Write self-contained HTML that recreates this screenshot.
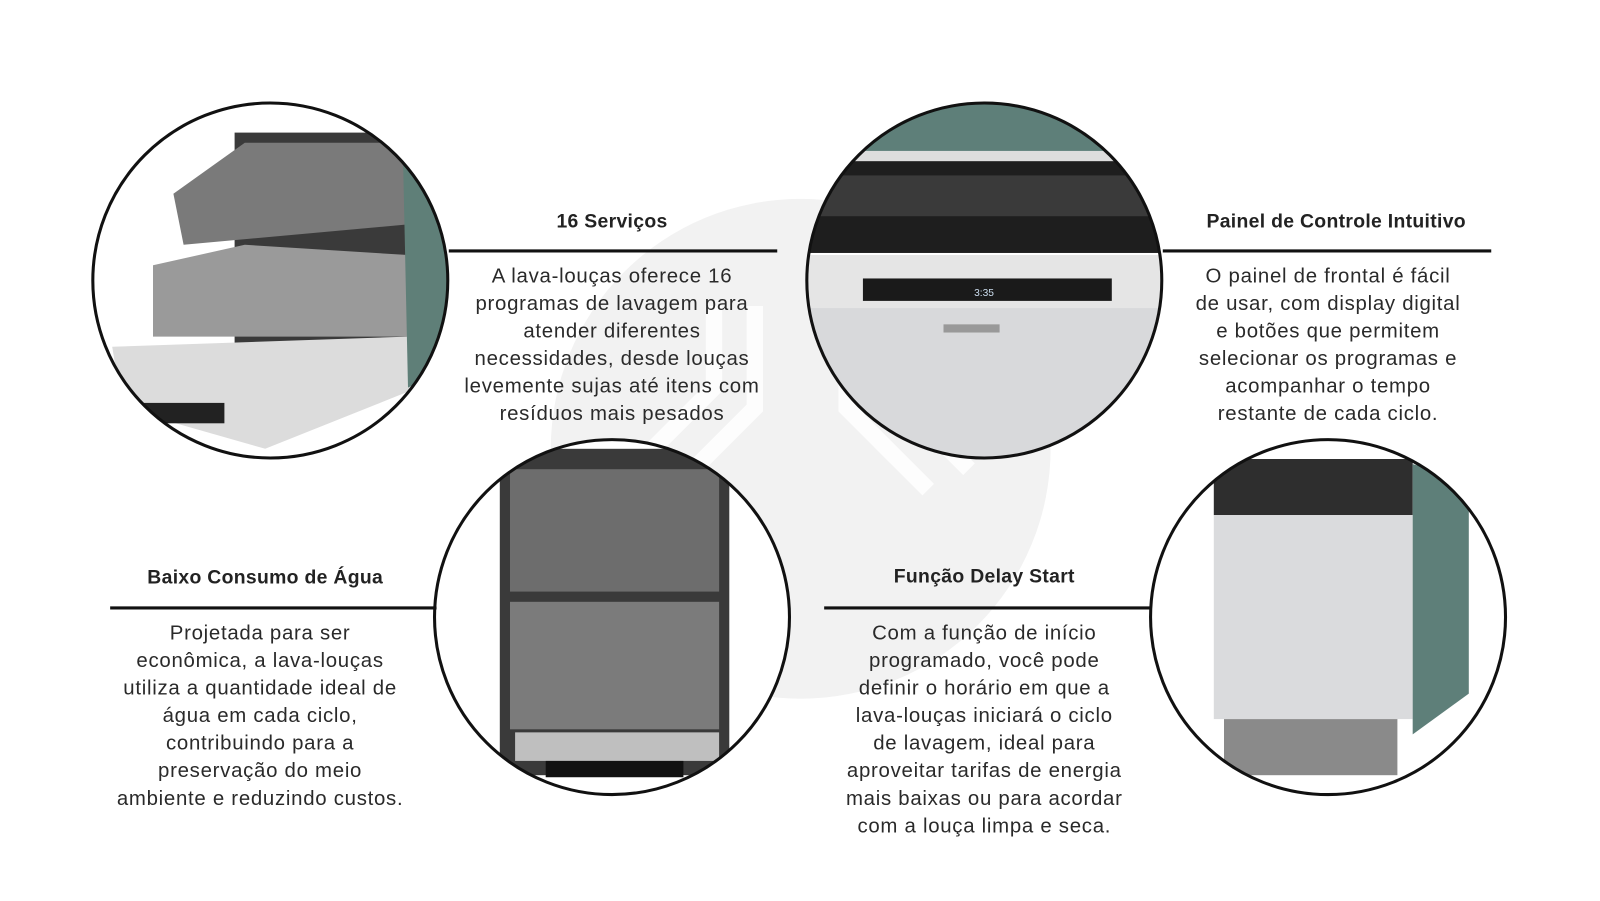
<!DOCTYPE html>
<html><head><meta charset="utf-8"><style>
html,body{margin:0;padding:0;background:#fff;}
body{width:1600px;height:900px;position:relative;overflow:hidden;font-family:"Liberation Sans",sans-serif;color:#222;}
#w{position:absolute;left:0;top:0;width:1570px;height:883px;transform:scale(1.02);transform-origin:0 0;}
.t{position:absolute;font-weight:bold;font-size:19px;text-align:center;letter-spacing:0.3px;}
.b{position:absolute;font-size:20px;line-height:27px;text-align:center;color:#2a2a2a;letter-spacing:0.7px;white-space:nowrap;}
svg{position:absolute;left:0;top:0;}
</style></head><body><div id="w">
<svg width="1570" height="883" viewBox="0 0 1570 883">
<defs>
<clipPath id="c1"><circle cx="265" cy="275" r="173"/></clipPath>
<clipPath id="c2"><circle cx="965" cy="275" r="173"/></clipPath>
<clipPath id="c3"><circle cx="600" cy="605" r="173"/></clipPath>
<clipPath id="c4"><circle cx="1302" cy="605" r="173"/></clipPath>
</defs>
<circle cx="785" cy="440" r="245" fill="#f2f2f2"/>
<g stroke="#fff" stroke-width="16" fill="none" opacity="0.9">
<path d="M700 300 L700 380 L620 460"/><path d="M740 300 L740 400 L660 480"/>
<path d="M830 300 L830 400 L910 480"/><path d="M870 300 L870 380 L950 460"/>
</g>
<g clip-path="url(#c1)">
<rect x="80" y="90" width="380" height="380" fill="#fff"/>
<rect x="230" y="130" width="170" height="250" fill="#3a3a3a"/>
<polygon points="170,190 240,140 400,140 400,220 180,240" fill="#7a7a7a"/>
<polygon points="150,260 240,240 400,250 400,330 150,330" fill="#9a9a9a"/>
<polygon points="110,340 400,330 410,380 260,440 120,400" fill="#dcdcdc"/>
<rect x="130" y="395" width="90" height="20" fill="#222"/>
<polygon points="395,150 440,170 440,360 400,380" fill="#5f7f78"/>
</g>
<circle cx="265" cy="275" r="174" fill="none" stroke="#111" stroke-width="3"/>
<g clip-path="url(#c2)">
<rect x="780" y="90" width="380" height="380" fill="#fff"/>
<rect x="780" y="90" width="380" height="58" fill="#5e7f79"/>
<rect x="780" y="148" width="380" height="10" fill="#ddd"/>
<rect x="780" y="158" width="380" height="90" fill="#1e1e1e"/>
<rect x="800" y="172" width="340" height="40" fill="#3a3a3a"/>
<rect x="780" y="250" width="380" height="52" fill="#e5e5e5"/>
<rect x="846" y="273" width="244" height="22" fill="#1a1a1a"/>
<text x="955" y="290" font-size="10" fill="#cde" font-family="Liberation Sans">3:35</text>
<rect x="780" y="302" width="380" height="170" fill="#d8d9db"/>
<rect x="925" y="318" width="55" height="8" fill="#999"/>
</g>
<circle cx="965" cy="275" r="174" fill="none" stroke="#111" stroke-width="3"/>
<g clip-path="url(#c3)">
<rect x="420" y="425" width="360" height="360" fill="#fff"/>
<rect x="490" y="440" width="225" height="320" fill="#3a3a3a"/>
<rect x="500" y="460" width="205" height="120" fill="#6d6d6d"/>
<rect x="500" y="590" width="205" height="125" fill="#7b7b7b"/>
<rect x="505" y="718" width="200" height="28" fill="#bfbfbf"/>
<rect x="535" y="746" width="135" height="16" fill="#111"/>
</g>
<circle cx="600" cy="605" r="174" fill="none" stroke="#111" stroke-width="3"/>
<g clip-path="url(#c4)">
<rect x="1120" y="425" width="365" height="360" fill="#fff"/>
<rect x="1190" y="450" width="195" height="55" fill="#2e2e2e"/>
<rect x="1190" y="505" width="195" height="200" fill="#dadbdd"/>
<polygon points="1385,455 1440,470 1440,680 1385,720" fill="#5e7f79"/>
<rect x="1200" y="705" width="170" height="55" fill="#8a8a8a"/>
</g>
<circle cx="1302" cy="605" r="174" fill="none" stroke="#111" stroke-width="3"/>
<g stroke="#111" stroke-width="3">
<line x1="440" y1="246" x2="762" y2="246"/>
<line x1="1140" y1="246" x2="1462" y2="246"/>
<line x1="108" y1="596" x2="428" y2="596"/>
<line x1="808" y1="596" x2="1128" y2="596"/>
</g>
</svg>
<div class="t" style="left:450px;top:207px;width:300px;">16 Serviços</div>
<div class="b" style="left:450px;top:258px;width:300px;">A lava-louças oferece 16<br>programas de lavagem para<br>atender diferentes<br>necessidades, desde louças<br>levemente sujas até itens com<br>resíduos mais pesados</div>
<div class="t" style="left:1150px;top:207px;width:320px;">Painel de Controle Intuitivo</div>
<div class="b" style="left:1150px;top:258px;width:304px;">O painel de frontal é fácil<br>de usar, com display digital<br>e botões que permitem<br>selecionar os programas e<br>acompanhar o tempo<br>restante de cada ciclo.</div>
<div class="t" style="left:110px;top:556px;width:300px;">Baixo Consumo de Água</div>
<div class="b" style="left:105px;top:608px;width:300px;">Projetada para ser<br>econômica, a lava-louças<br>utiliza a quantidade ideal de<br>água em cada ciclo,<br>contribuindo para a<br>preservação do meio<br>ambiente e reduzindo custos.</div>
<div class="t" style="left:815px;top:555px;width:300px;">Função Delay Start</div>
<div class="b" style="left:815px;top:608px;width:300px;">Com a função de início<br>programado, você pode<br>definir o horário em que a<br>lava-louças iniciará o ciclo<br>de lavagem, ideal para<br>aproveitar tarifas de energia<br>mais baixas ou para acordar<br>com a louça limpa e seca.</div>
</div></body></html>
